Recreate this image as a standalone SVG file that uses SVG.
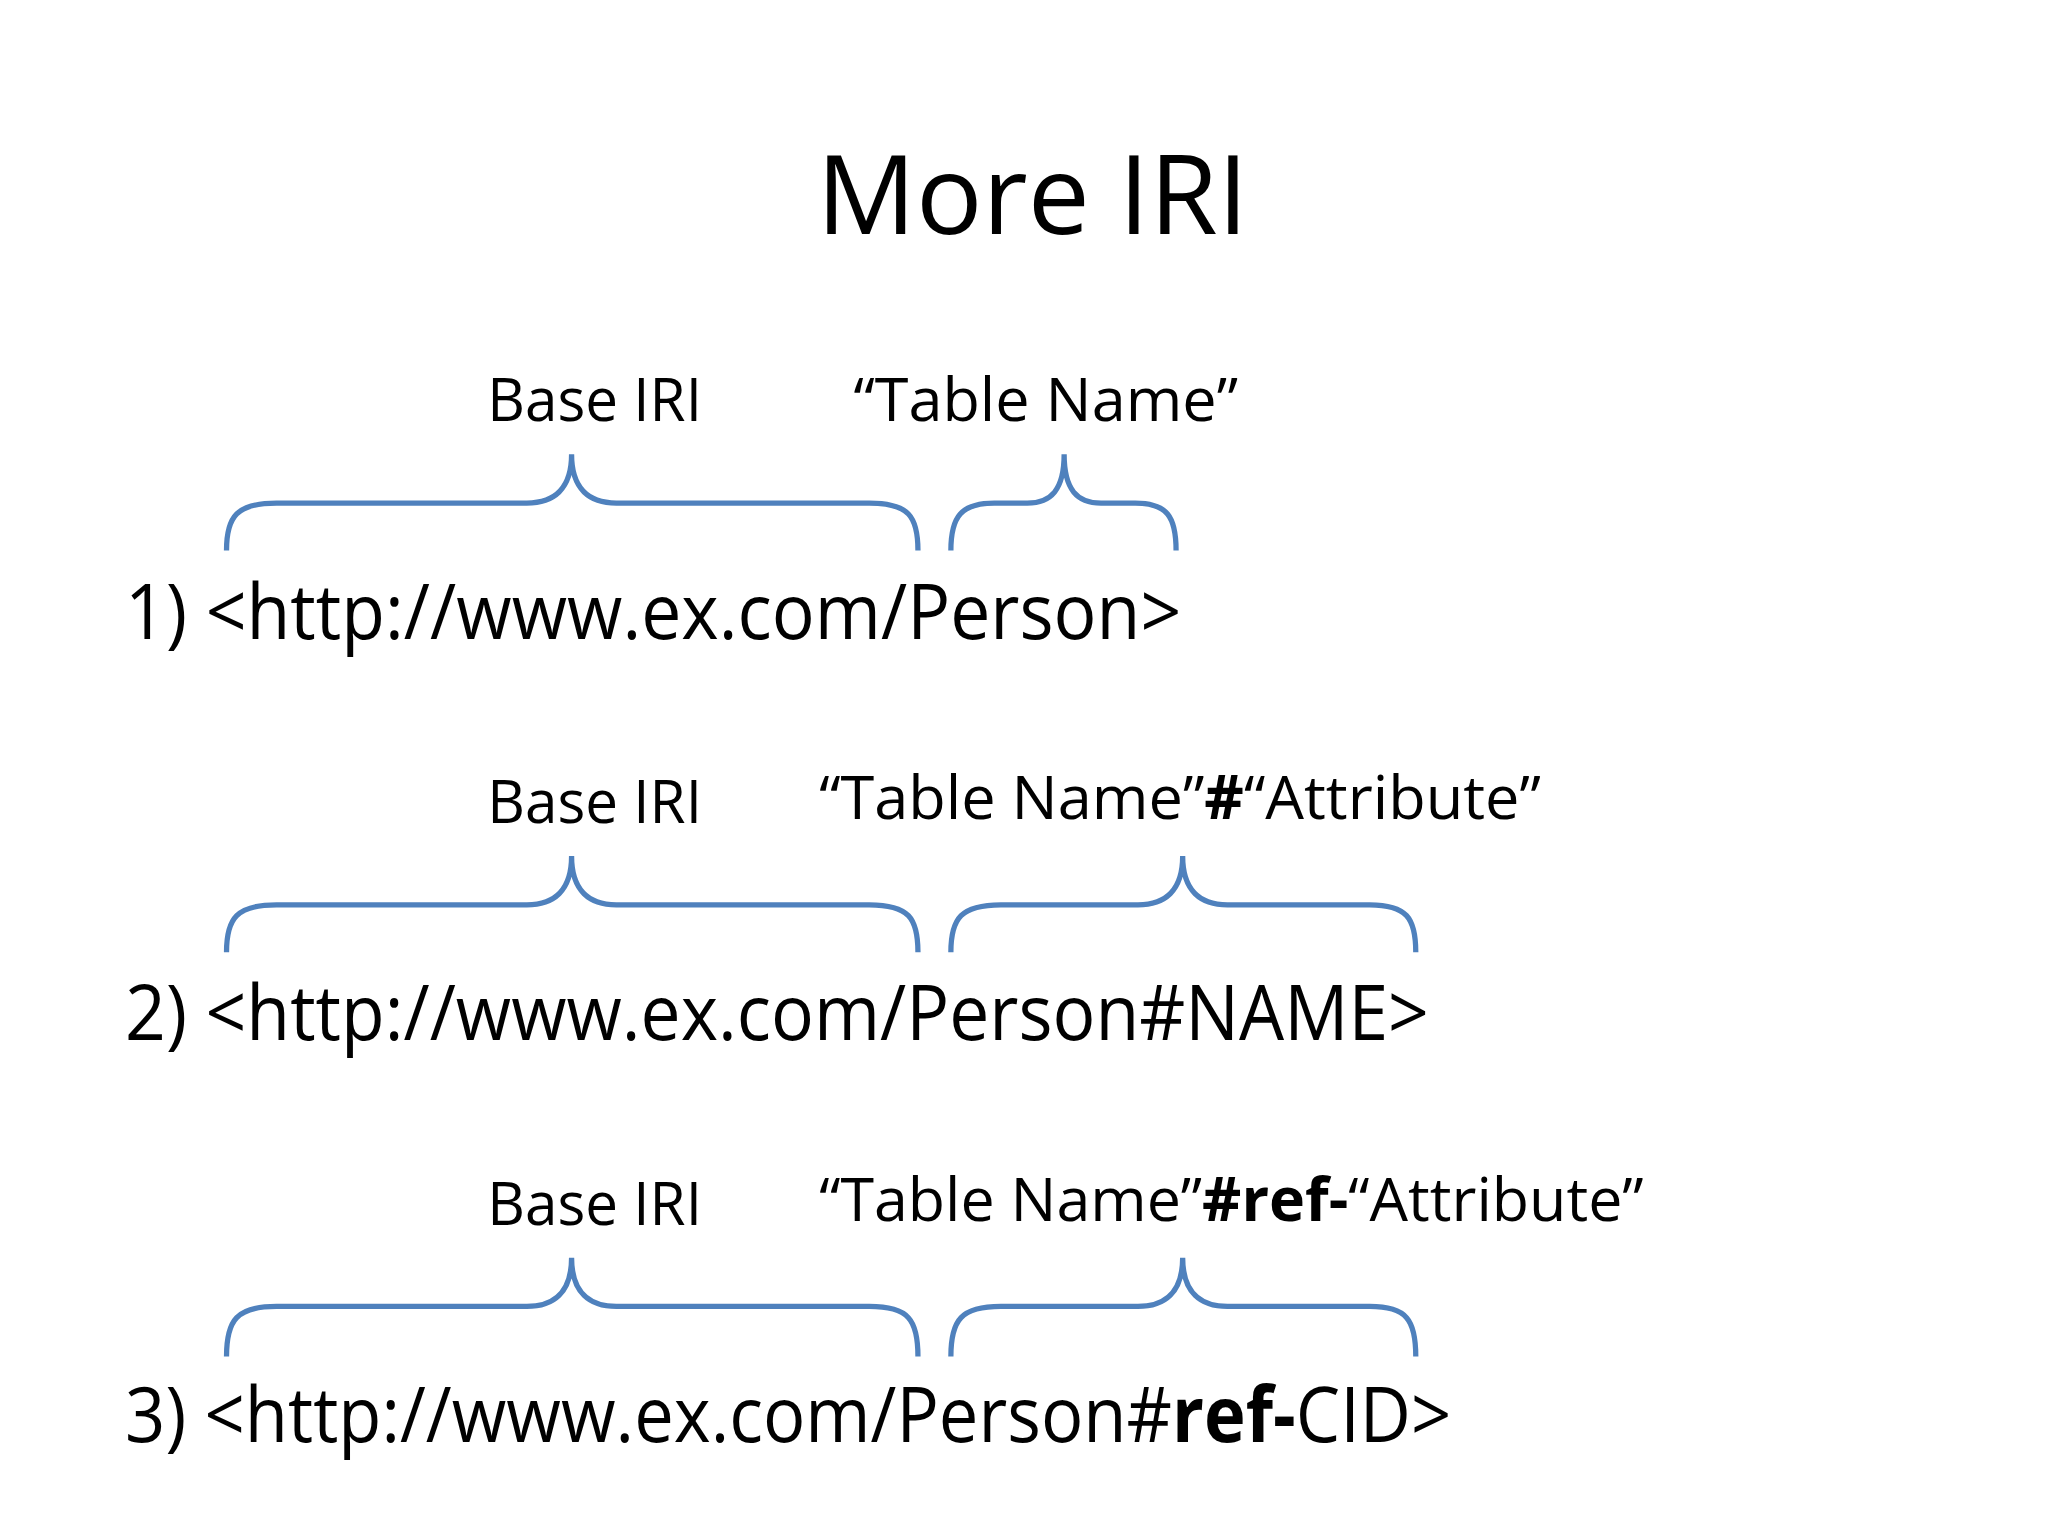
<svg xmlns="http://www.w3.org/2000/svg" width="2048" height="1536" viewBox="0 0 2048 1536">
<style>
text{font-family:"Open Sans","Liberation Sans",sans-serif;fill:#000}
.lab{font-size:46px}
.main{font-size:58px}
.br{fill:none;stroke:#4f81bd;stroke-width:4}
</style>
<rect width="2048" height="1536" fill="#fff"/>
<g transform="scale(1.317)">
<g id="title"><text x="620" y="178" font-size="84" textLength="328" lengthAdjust="spacingAndGlyphs">More IRI</text></g>
<g id="connectors">
<path class="br" d="M172,418 C172,392 180,382 210,382 H400 C420,382 434,372 434,345 C434,372 448,382 468,382 H660 C690,382 697,392 697,418"/>
<path class="br" d="M722,418 C722,392 730,382 755,382 H780 C798,382 808,372 808,345 C808,372 818,382 836,382 H862 C886,382 893,392 893,418"/>
<path class="br" d="M172,723 C172,697 180,687 210,687 H400 C420,687 434,677 434,650 C434,677 448,687 468,687 H660 C690,687 697,697 697,723"/>
<path class="br" d="M722,723 C722,697 730,687 760,687 H864 C884,687 898,677 898,650 C898,677 912,687 932,687 H1040 C1068,687 1075,697 1075,723"/>
<path class="br" d="M172,1030 C172,1002 180,992 210,992 H400 C420,992 434,982 434,955 C434,982 448,992 468,992 H660 C690,992 697,1002 697,1030"/>
<path class="br" d="M722,1030 C722,1002 730,992 760,992 H864 C884,992 898,982 898,955 C898,982 912,992 932,992 H1040 C1068,992 1075,1002 1075,1030"/>
</g>
<g id="row1">
<text class="lab" x="370" y="320" textLength="163" lengthAdjust="spacingAndGlyphs">Base IRI</text>
<text class="lab" x="648" y="320" textLength="292" lengthAdjust="spacingAndGlyphs">“Table Name”</text>
<text class="main" x="95" y="485" textLength="802" lengthAdjust="spacingAndGlyphs">1) &lt;http://www.ex.com/Person&gt;</text>
</g>
<g id="row2">
<text class="lab" x="370" y="625" textLength="163" lengthAdjust="spacingAndGlyphs">Base IRI</text>
<text class="lab" x="622" y="622" textLength="548" lengthAdjust="spacingAndGlyphs">“Table Name”<tspan font-weight="bold">#</tspan>“Attribute”</text>
<text class="main" x="95" y="790" textLength="990" lengthAdjust="spacingAndGlyphs">2) &lt;http://www.ex.com/Person#NAME&gt;</text>
</g>
<g id="row3">
<text class="lab" x="370" y="930" textLength="163" lengthAdjust="spacingAndGlyphs">Base IRI</text>
<text class="lab" x="622" y="927" textLength="626" lengthAdjust="spacingAndGlyphs">“Table Name”<tspan font-weight="bold">#ref-</tspan>“Attribute”</text>
<text class="main" x="95" y="1095" textLength="1007" lengthAdjust="spacingAndGlyphs">3) &lt;http://www.ex.com/Person#<tspan font-weight="bold">ref-</tspan>CID&gt;</text>
</g>
</g>
</svg>
